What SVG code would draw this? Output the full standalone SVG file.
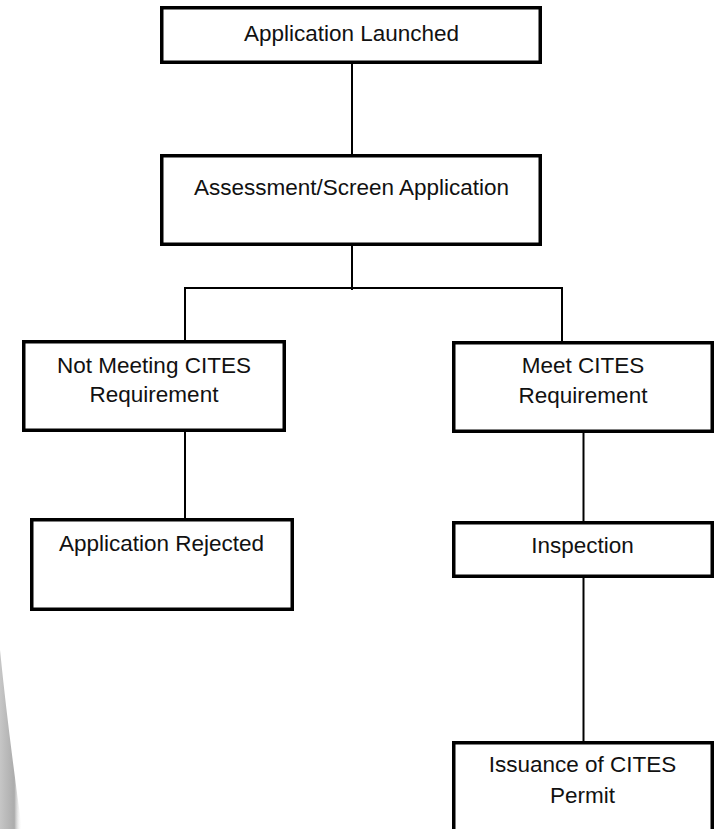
<svg xmlns="http://www.w3.org/2000/svg" width="718" height="829" viewBox="0 0 718 829">
  <style>
    .box { fill: #ffffff; stroke: #000000; stroke-width: 3.5; }
    .conn { fill: none; stroke: #000000; stroke-width: 2; }
    .lbl { font-family: "Liberation Sans", Arial, sans-serif; font-size: 22.5px; fill: #111111; text-anchor: middle; }
  </style>
  <defs>
    <linearGradient id="shade" x1="0" y1="0" x2="1" y2="0">
      <stop offset="0" stop-color="#c6c6c6"/>
      <stop offset="0.65" stop-color="#acacac"/>
      <stop offset="1" stop-color="#ffffff" stop-opacity="0"/>
    </linearGradient>
  </defs>
  <rect x="0" y="0" width="718" height="829" fill="#ffffff"/>
  <path d="M0,650 Q8,730 22,829 L0,829 Z" fill="url(#shade)"/>

  <g id="connectors">
    <line class="conn" x1="352" y1="64" x2="352" y2="154"/>
    <line class="conn" x1="352" y1="246" x2="352" y2="290"/>
    <polyline class="conn" points="185,340 185,288 562,288 562,341"/>
    <line class="conn" x1="185" y1="432" x2="185" y2="518"/>
    <line class="conn" x1="583.5" y1="433" x2="583.5" y2="521"/>
    <line class="conn" x1="583.5" y1="578" x2="583.5" y2="741"/>
  </g>

  <g id="n-launched">
    <rect class="box" x="161.75" y="7.75" width="378.5" height="54.5"/>
    <text class="lbl" x="351.5" y="41">Application Launched</text>
  </g>
  <g id="n-assessment">
    <rect class="box" x="161.75" y="155.75" width="378.5" height="88.5"/>
    <text class="lbl" x="351.5" y="195">Assessment/Screen Application</text>
  </g>
  <g id="n-notmeet">
    <rect class="box" x="23.75" y="341.75" width="260.5" height="88.5"/>
    <text class="lbl" x="154" y="373">Not Meeting CITES</text>
    <text class="lbl" x="154" y="401.5">Requirement</text>
  </g>
  <g id="n-meet">
    <rect class="box" x="453.75" y="342.75" width="258.5" height="88.5"/>
    <text class="lbl" x="583" y="373">Meet CITES</text>
    <text class="lbl" x="583" y="402.5">Requirement</text>
  </g>
  <g id="n-rejected">
    <rect class="box" x="31.75" y="519.75" width="260.5" height="89.5"/>
    <text class="lbl" x="161.5" y="551">Application Rejected</text>
  </g>
  <g id="n-inspection">
    <rect class="box" x="453.75" y="522.75" width="258.5" height="53.5"/>
    <text class="lbl" x="582.5" y="553">Inspection</text>
  </g>
  <g id="n-issuance">
    <rect class="box" x="453.75" y="742.75" width="258.5" height="100"/>
    <text class="lbl" x="582.5" y="772">Issuance of CITES</text>
    <text class="lbl" x="582.5" y="802.5">Permit</text>
  </g>
</svg>
